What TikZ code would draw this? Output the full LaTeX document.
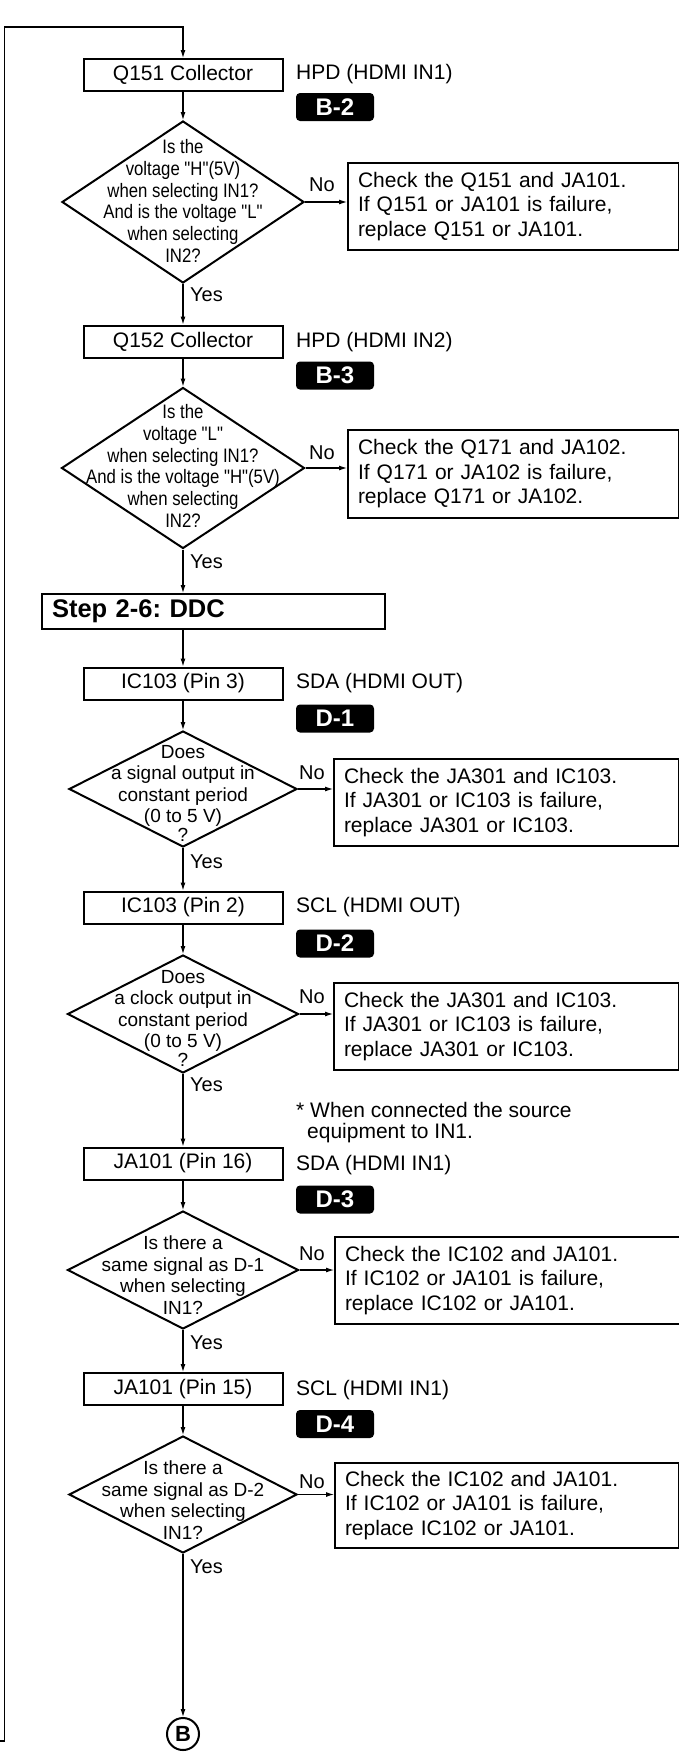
\documentclass[tikz,border=0pt]{standalone}
\usepackage{fontspec}
\setmainfont{Liberation Sans}
\newfontfamily\narrowsans[FakeStretch=0.86]{Liberation Sans}
\usetikzlibrary{arrows.meta,shapes.geometric}
\frenchspacing

\begin{document}
\begin{tikzpicture}[x=1pt,y=-1pt,>={Latex[length=8pt,width=5pt]},line join=miter]
\useasboundingbox[fill=white] (0,0) rectangle (679,1754);
\tikzset{conn/.style={draw=black,line width=1.1pt},
  procbox/.style={draw=black,line width=2pt,minimum width=199pt,minimum height=32pt,inner sep=0pt,font=\fontsize{21}{24}\selectfont},
  checkbox/.style={draw=black,line width=2pt,anchor=north west,inner xsep=10pt,inner ysep=0pt,align=left,font=\fontsize{21}{24.5}\selectfont},
  decision/.style={diamond,draw=black,line width=2pt,inner sep=0pt},
  dtext/.style={align=center,inner sep=0pt,font=\narrowsans\fontsize{19.5}{21.7}\selectfont},
  dtextwide/.style={align=center,inner sep=0pt,font=\fontsize{19}{21.5}\selectfont},
  sidelabel/.style={anchor=west,inner sep=0pt,font=\fontsize{21}{24}\selectfont},
  badge/.style={fill=black,rounded corners=4pt,minimum width=78pt,minimum height=28pt,inner sep=0pt,text=white,font=\bfseries\fontsize{24}{24}\selectfont},
  yeslabel/.style={anchor=west,inner sep=0pt,font=\fontsize{20}{22}\selectfont},
  nolabel/.style={inner sep=0pt,font=\fontsize{20}{22}\selectfont}}
\coordinate (looptop) at (4.5,27);
\coordinate (loopbot) at (0,1741);
\node[procbox] (q151) at (183,75) {Q151 Collector};
\node[sidelabel] (q151l) at (296,74) {HPD (HDMI IN1)};
\node[badge] (b2) at (335,107) {B-2};
\node[decision,minimum width=242pt,minimum height=162pt] (d1) at (183,202) {};
\node[dtext] (d1t) at (183,201) {Is the\\voltage "H"(5V)\\when selecting IN1?\\And is the voltage "L"\\when selecting\\IN2?};
\node[checkbox,text width=311pt,minimum height=87pt] (c1) at (347,162) {Check the Q151 and JA101.\\If Q151 or JA101 is failure,\\replace Q151 or JA101.};
\node[procbox] (q152) at (183,341.5) {Q152 Collector};
\node[sidelabel] (q152l) at (296,342) {HPD (HDMI IN2)};
\node[badge] (b3) at (335,375.5) {B-3};
\node[decision,minimum width=243pt,minimum height=161pt] (d2) at (183,468) {};
\node[dtext] (d2t) at (183,466) {Is the\\voltage "L"\\when selecting IN1?\\And is the voltage "H"(5V)\\when selecting\\IN2?};
\node[checkbox,text width=311pt,minimum height=88pt] (c2) at (347,429) {Check the Q171 and JA102.\\If Q171 or JA102 is failure,\\replace Q171 or JA102.};
\node[draw=black,line width=2pt,minimum width=343pt,minimum height=35pt,inner xsep=10pt,inner ysep=0pt,text width=323pt,align=left,font=\bfseries\fontsize{25.5}{27}\selectfont] (step) at (213.5,611.5) {Step 2-6: DDC};
\node[procbox] (ic3) at (183,683.5) {IC103 (Pin 3)};
\node[sidelabel] (ic3l) at (296,683) {SDA (HDMI OUT)};
\node[badge] (bd1) at (335,718.5) {D-1};
\node[decision,minimum width=228pt,minimum height=116pt] (d3) at (183,789) {};
\node[dtextwide] (d3t) at (183,793) {Does\\a signal output in\\constant period\\(0 to 5 V)\\[-3pt]?};
\node[checkbox,text width=325pt,minimum height=87pt] (c3) at (333,758) {Check the JA301 and IC103.\\If JA301 or IC103 is failure,\\replace JA301 or IC103.};
\node[procbox] (ic2) at (183,907.5) {IC103 (Pin 2)};
\node[sidelabel] (ic2l) at (296,907) {SCL (HDMI OUT)};
\node[badge] (bd2) at (335,943.5) {D-2};
\node[decision,minimum width=231pt,minimum height=118pt] (d4) at (183,1014) {};
\node[dtextwide] (d4t) at (183,1018) {Does\\a clock output in\\constant period\\(0 to 5 V)\\[-3pt]?};
\node[checkbox,text width=325pt,minimum height=87pt] (c4) at (333,982) {Check the JA301 and IC103.\\If JA301 or IC103 is failure,\\replace JA301 or IC103.};
\node[anchor=west,inner sep=0pt,align=left,font=\fontsize{21}{21.7}\selectfont] (note) at (296,1122.5) {* When connected the source\\\hspace*{11pt}equipment to IN1.};
\node[procbox] (ja16) at (183,1163.5) {JA101 (Pin 16)};
\node[sidelabel] (ja16l) at (296,1165) {SDA (HDMI IN1)};
\node[badge] (bd3) at (335,1199.5) {D-3};
\node[decision,minimum width=231pt,minimum height=118pt] (d5) at (183,1270) {};
\node[dtextwide] (d5t) at (183,1275) {Is there a\\same signal as D-1\\when selecting\\IN1?};
\node[checkbox,text width=325pt,minimum height=87pt] (c5) at (334,1236) {Check the IC102 and JA101.\\If IC102 or JA101 is failure,\\replace IC102 or JA101.};
\node[procbox] (ja15) at (183,1389) {JA101 (Pin 15)};
\node[sidelabel] (ja15l) at (296,1390) {SCL (HDMI IN1)};
\node[badge] (bd4) at (335,1424) {D-4};
\node[decision,minimum width=228pt,minimum height=117pt] (d6) at (183,1494.5) {};
\node[dtextwide] (d6t) at (183,1500) {Is there a\\same signal as D-2\\when selecting\\IN1?};
\node[checkbox,text width=324pt,minimum height=85pt] (c6) at (334,1462) {Check the IC102 and JA101.\\If IC102 or JA101 is failure,\\replace IC102 or JA101.};
\node[circle,draw=black,line width=2pt,minimum size=32pt,inner sep=0pt,font=\bfseries\fontsize{22}{22}\selectfont] (bmark) at (183,1734) {B};
\draw[conn,->] (loopbot) -- (loopbot -| looptop) -- (looptop) -| (q151.north);
\draw[conn,->] (q151) -- (d1);
\draw[conn,->] (d1.east) -- (d1.east -| c1.west);
\draw[conn,->] (d1) -- (q152);
\draw[conn,->] (q152) -- (d2);
\draw[conn,->] (d2.east) -- (d2.east -| c2.west);
\draw[conn,->] (d2.south) -- (d2.south |- step.north);
\draw[conn,->] (ic3.north |- step.south) -- (ic3.north);
\draw[conn,->] (ic3) -- (d3);
\draw[conn,->] (d3.east) -- (d3.east -| c3.west);
\draw[conn,->] (d3) -- (ic2);
\draw[conn,->] (ic2) -- (d4);
\draw[conn,->] (d4.east) -- (d4.east -| c4.west);
\draw[conn,->] (d4) -- (ja16);
\draw[conn,->] (ja16) -- (d5);
\draw[conn,->] (d5.east) -- (d5.east -| c5.west);
\draw[conn,->] (d5) -- (ja15);
\draw[conn,->] (ja15) -- (d6);
\draw[conn,->] (d6.east) -- (d6.east -| c6.west);
\draw[conn,->] (d6) -- (bmark);
\node[nolabel] at (322,185) {No};
\node[nolabel] at (322,453) {No};
\node[nolabel] at (312,773) {No};
\node[nolabel] at (312,997) {No};
\node[nolabel] at (312,1254) {No};
\node[nolabel] at (312,1482) {No};
\node[yeslabel] at (190,295) {Yes};
\node[yeslabel] at (190,562) {Yes};
\node[yeslabel] at (190,862) {Yes};
\node[yeslabel] at (190,1085) {Yes};
\node[yeslabel] at (190,1343) {Yes};
\node[yeslabel] at (190,1567) {Yes};
\end{tikzpicture}
\end{document}
